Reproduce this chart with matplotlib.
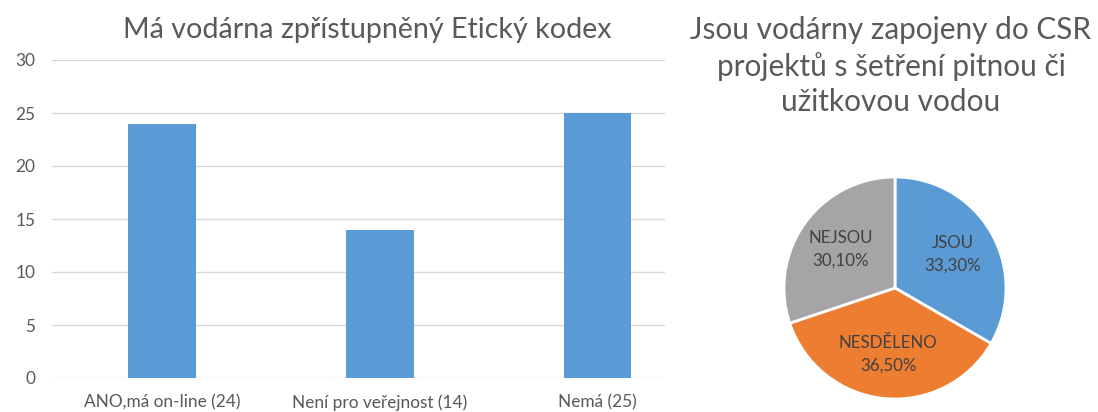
import matplotlib.pyplot as plt

plt.rcParams['font.family'] = ['Lato', 'DejaVu Sans']

# --- data ---
bar_labels = ['ANO,má on-line (24)', 'Není pro veřejnost (14)', 'Nemá (25)']
bar_values = [24, 14, 25]
y_ticks = [0, 5, 10, 15, 20, 25, 30]

pie_labels = ['JSOU', 'NESDĚLENO', 'NEJSOU']
pie_values = [33.3, 36.5, 30.1]
pie_colors = ['#5B9BD5', '#ED7D31', '#A5A5A5']

W, H = 1098, 412
fig = plt.figure(figsize=(W / 100, H / 100), dpi=100)

# --- bar chart ---
ax = fig.add_axes([52 / W, 1 - 378 / H, (665 - 52) / W, (378 - 60) / H])
x = range(len(bar_values))
ax.bar(x, bar_values, width=0.31, color='#5B9BD5', zorder=3)
ax.set_ylim(0, 30)
ax.set_xlim(-0.506, 2.31)
ax.set_yticks(y_ticks)
ax.set_xticks(list(x))
ax.set_xticklabels(bar_labels)
ax.tick_params(length=0, labelsize=12.4, colors='#595959')
ax.tick_params(axis='x', pad=12)
ax.tick_params(axis='y', pad=12)
ax.grid(axis='y', color='#D9D9D9', linewidth=1, zorder=0)
for s in ax.spines.values():
    s.set_visible(False)
fig.text(367 / W, 1 - 30 / H, 'Má vodárna zpřístupněný Etický kodex',
         ha='center', va='center', fontsize=20.6, color='#595959')

# --- pie chart ---
cx, cy, r = 895, 288, 111
pax = fig.add_axes([(cx - r) / W, 1 - (cy + r) / H, 2 * r / W, 2 * r / H])
txt = [f'{n}\n{v:.2f}%'.replace('.', ',') for n, v in zip(pie_labels, pie_values)]
wedges, texts = pax.pie(pie_values, labels=txt, colors=pie_colors, startangle=90,
                        counterclock=False, labeldistance=0.6,
                        wedgeprops=dict(edgecolor='white', linewidth=2),
                        textprops=dict(fontsize=12.2, color='#404040'))
for t in texts:
    t.set_ha('center')
    t.set_va('center')
    t.set_linespacing(1.5)
pax.set_xlim(-1, 1)
pax.set_ylim(-1, 1)
pax.set_aspect('equal')

fig.text(891 / W, 1 - 66 / H,
         'Jsou vodárny zapojeny do CSR\nprojektů s šetření pitnou či\nužitkovou vodou',
         ha='center', va='center', fontsize=21.4, color='#595959', linespacing=1.3)

fig.savefig('out.png', dpi=100)
